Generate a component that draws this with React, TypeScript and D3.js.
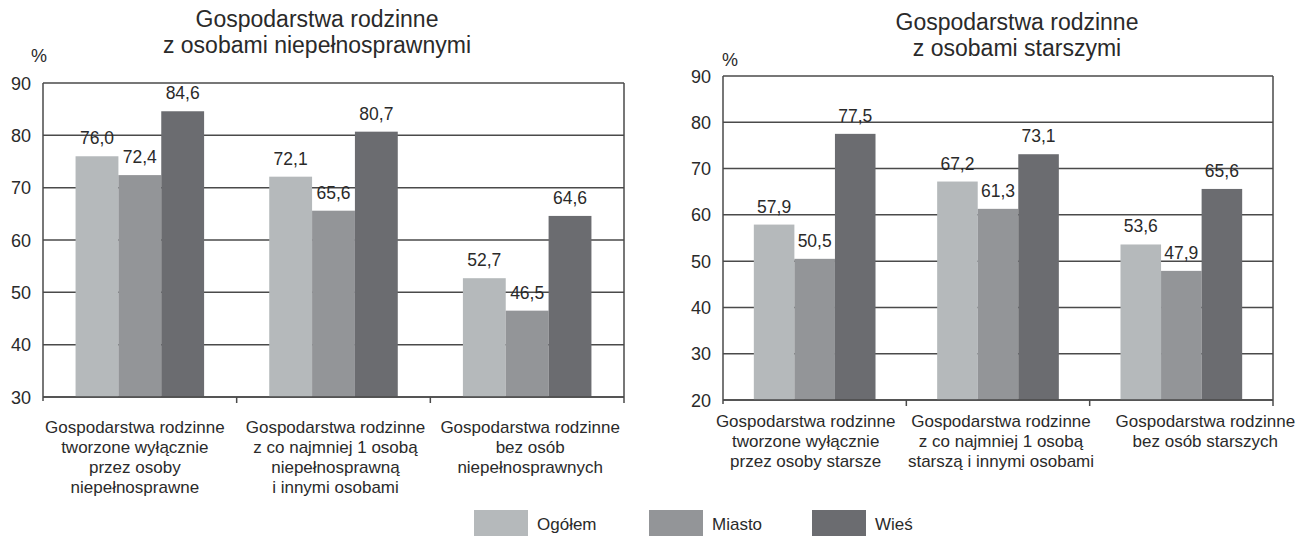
import React, { useEffect, useRef } from 'react';
import * as d3 from 'd3';

// Serie i kategorie
const seriesNames = ['Ogółem', 'Miasto', 'Wieś'];
const seriesColors = ['#b5b9bb', '#939598', '#6b6c70'];

const leftTitle = ['Gospodarstwa rodzinne', 'z osobami niepełnosprawnymi'];
const leftCategories = [
  ['Gospodarstwa rodzinne', 'tworzone wyłącznie', 'przez osoby', 'niepełnosprawne'],
  ['Gospodarstwa rodzinne', 'z co najmniej 1 osobą', 'niepełnosprawną', 'i innymi osobami'],
  ['Gospodarstwa rodzinne', 'bez osób', 'niepełnosprawnych'],
];
const leftOgolem = [76.0, 72.1, 52.7];
const leftMiasto = [72.4, 65.6, 46.5];
const leftWies = [84.6, 80.7, 64.6];
const leftTicks = [30, 40, 50, 60, 70, 80, 90];

const rightTitle = ['Gospodarstwa rodzinne', 'z osobami starszymi'];
const rightCategories = [
  ['Gospodarstwa rodzinne', 'tworzone wyłącznie', 'przez osoby starsze'],
  ['Gospodarstwa rodzinne', 'z co najmniej 1 osobą', 'starszą i innymi osobami'],
  ['Gospodarstwa rodzinne', 'bez osób starszych'],
];
const rightOgolem = [57.9, 67.2, 53.6];
const rightMiasto = [50.5, 61.3, 47.9];
const rightWies = [77.5, 73.1, 65.6];
const rightTicks = [20, 30, 40, 50, 60, 70, 80, 90];

const FONT = '"Liberation Sans", Arial, Helvetica, sans-serif';
const TEXT = '#2a2a2a';
const LINE = '#4a4a4a';

interface PanelOpts {
  title: string[];
  titleX: number;
  titleY: number;
  percentX: number;
  percentY: number;
  categories: string[][];
  labelDx: number[];
  labelY: number;
  series: number[][];
  ticks: number[];
  x0: number;
  x1: number;
  yTop: number;
  yBottom: number;
}

function drawPanel(svg: d3.Selection<SVGSVGElement, unknown, null, undefined>, o: PanelOpts) {
  const g = svg.append('g');
  const fmt = (v: number) => v.toFixed(1).replace('.', ',');

  const y = d3.scaleLinear()
    .domain([o.ticks[0], o.ticks[o.ticks.length - 1]])
    .range([o.yBottom, o.yTop]);

  const x = d3.scaleBand<number>()
    .domain(d3.range(o.categories.length))
    .range([o.x0, o.x1])
    .padding(0);

  const xs = d3.scaleBand<number>()
    .domain(d3.range(o.series.length))
    .range([0, x.bandwidth()])
    .paddingInner(0)
    .paddingOuter(0.76);

  // Tytuł
  o.title.forEach((t, i) => {
    g.append('text')
      .attr('x', o.titleX)
      .attr('y', o.titleY + i * 26)
      .attr('text-anchor', 'middle')
      .style('font-family', FONT)
      .style('font-size', '23px')
      .attr('fill', TEXT)
      .text(t);
  });

  g.append('text')
    .attr('x', o.percentX)
    .attr('y', o.percentY)
    .attr('text-anchor', 'middle')
    .style('font-family', FONT)
    .style('font-size', '18px')
    .attr('fill', TEXT)
    .text('%');

  // Linie siatki
  o.ticks.forEach(t => {
    g.append('line')
      .attr('x1', o.x0)
      .attr('x2', o.x1)
      .attr('y1', y(t))
      .attr('y2', y(t))
      .attr('stroke', LINE)
      .attr('stroke-width', 1.5);

    g.append('text')
      .attr('x', o.x0 - 12)
      .attr('y', y(t) + 6.5)
      .attr('text-anchor', 'end')
      .style('font-family', FONT)
      .style('font-size', '18px')
      .attr('fill', TEXT)
      .text(t);
  });

  // Słupki
  o.categories.forEach((_, ci) => {
    o.series.forEach((values, si) => {
      const v = values[ci];
      const bx = (x(ci) as number) + (xs(si) as number);
      g.append('rect')
        .attr('x', bx)
        .attr('y', y(v))
        .attr('width', xs.bandwidth())
        .attr('height', y(o.ticks[0]) - y(v))
        .attr('fill', seriesColors[si]);

      g.append('text')
        .attr('x', bx + xs.bandwidth() / 2)
        .attr('y', y(v) - 12)
        .attr('text-anchor', 'middle')
        .style('font-family', FONT)
        .style('font-size', '17.5px')
        .attr('fill', TEXT)
        .text(fmt(v));
    });
  });

  // Osie
  g.append('line')
    .attr('x1', o.x0).attr('x2', o.x0)
    .attr('y1', o.yTop).attr('y2', o.yBottom + 4)
    .attr('stroke', LINE).attr('stroke-width', 1.5);
  g.append('line')
    .attr('x1', o.x1).attr('x2', o.x1)
    .attr('y1', o.yTop).attr('y2', o.yBottom + 6)
    .attr('stroke', LINE).attr('stroke-width', 1.5);
  g.append('line')
    .attr('x1', o.x0).attr('x2', o.x1)
    .attr('y1', o.yBottom).attr('y2', o.yBottom)
    .attr('stroke', LINE).attr('stroke-width', 1.5);
  d3.range(1, o.categories.length).forEach(i => {
    const tx = x(i) as number;
    g.append('line')
      .attr('x1', tx).attr('x2', tx)
      .attr('y1', o.yBottom).attr('y2', o.yBottom + 6)
      .attr('stroke', LINE).attr('stroke-width', 1.5);
  });

  // Etykiety kategorii
  o.categories.forEach((lines, ci) => {
    const cx = (x(ci) as number) + x.bandwidth() / 2 + o.labelDx[ci];
    lines.forEach((l, li) => {
      g.append('text')
        .attr('x', cx)
        .attr('y', o.labelY + li * 20)
        .attr('text-anchor', 'middle')
        .style('font-family', FONT)
        .style('font-size', '17px')
        .attr('fill', TEXT)
        .text(l);
    });
  });
}

export default function App() {
  const svgRef = useRef<SVGSVGElement>(null);

  useEffect(() => {
    if (!svgRef.current) return;
    const svg = d3.select(svgRef.current);
    svg.selectAll('*').remove();

    drawPanel(svg, {
      title: leftTitle, titleX: 317, titleY: 27,
      percentX: 39, percentY: 62,
      categories: leftCategories, labelDx: [-5, 2, 3], labelY: 433,
      series: [leftOgolem, leftMiasto, leftWies],
      ticks: leftTicks,
      x0: 43, x1: 624, yTop: 83, yBottom: 397,
    });

    drawPanel(svg, {
      title: rightTitle, titleX: 1017, titleY: 30,
      percentX: 730, percentY: 66,
      categories: rightCategories, labelDx: [-9, 3, 24], labelY: 427,
      series: [rightOgolem, rightMiasto, rightWies],
      ticks: rightTicks,
      x0: 723, x1: 1273, yTop: 76, yBottom: 400,
    });

    // Legenda
    const legendX = [474, 649, 812];
    const legend = svg.append('g');
    seriesNames.forEach((name, i) => {
      legend.append('rect')
        .attr('x', legendX[i])
        .attr('y', 510)
        .attr('width', 54)
        .attr('height', 26)
        .attr('fill', seriesColors[i]);
      legend.append('text')
        .attr('x', legendX[i] + 63)
        .attr('y', 530)
        .style('font-family', FONT)
        .style('font-size', '17px')
        .attr('fill', TEXT)
        .text(name);
    });
  }, []);

  return (
    <div style={{ position: 'fixed', left: 0, top: 0, background: '#fff' }}>
      <svg ref={svgRef} width={1311} height={538} style={{ display: 'block' }} />
    </div>
  );
}
